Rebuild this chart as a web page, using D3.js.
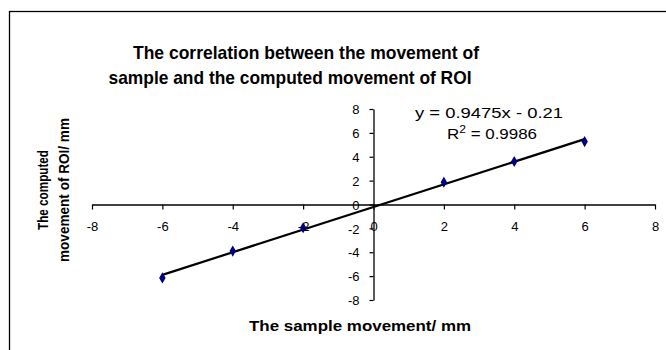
<!DOCTYPE html>
<html>
<head>
<meta charset="utf-8">
<script src="https://cdn.jsdelivr.net/npm/d3@7"></script>
<style>
  html, body { margin: 0; padding: 0; background: #fff; }
  svg { display: block; }
  text { font-family: "Liberation Sans", Arial, sans-serif; fill: #000; }
</style>
</head>
<body>
<svg id="chart" width="666" height="350"></svg>
<script>
// Sample displacement (mm) and the ROI displacement computed from images (mm)
const sampleMovement = [-6, -4, -2, 2, 4, 6];
const computedMovement = [-6.15, -3.9, -1.95, 1.87, 3.6, 5.27];

// Linear trendline as reported on the chart
const trendSlope = 0.9475;
const trendIntercept = -0.21;
const trendR2 = 0.9986;

const xTicks = [-8, -6, -4, -2, 0, 2, 4, 6, 8];
const yTicks = [-8, -6, -4, -2, 0, 2, 4, 6, 8];

const titleLines = [
  "The correlation between the movement of",
  "sample and the computed movement of ROI"
];
const xTitle = "The sample movement/ mm";
const yTitleLines = ["The computed", "movement of ROI/ mm"];

const svg = d3.select("#chart");
const FONT = "Liberation Sans, Arial, sans-serif";

// chart frame
svg.append("rect")
  .attr("x", 9.5).attr("y", 11.5)
  .attr("width", 700).attr("height", 400)
  .attr("fill", "none").attr("stroke", "#000").attr("stroke-width", 1.3);

const x = d3.scaleLinear().domain([-8, 8]).range([92, 655]);
const y = d3.scaleLinear().domain([-8, 8]).range([300, 109]);

const fmt = d => d < 0 ? "-" + Math.abs(d) : String(d);

// x axis crosses at y = 0
const xAxis = svg.append("g")
  .attr("transform", `translate(0,${y(0)})`)
  .call(d3.axisBottom(x).tickValues(xTicks).tickSize(5).tickSizeOuter(0).tickFormat(fmt));
xAxis.attr("font-size", 13).attr("font-family", FONT);
xAxis.select(".domain").attr("stroke", "#000").attr("stroke-width", 1.3);
xAxis.selectAll(".tick line").attr("stroke", "#000").attr("stroke-width", 1.2);
xAxis.selectAll(".tick text").attr("y", 26).attr("dy", 0);

// y axis crosses at x = 0
const yAxis = svg.append("g")
  .attr("transform", `translate(${x(0)},0)`)
  .call(d3.axisLeft(y).tickValues(yTicks).tickSize(4).tickSizeOuter(0).tickFormat(fmt));
yAxis.attr("font-size", 13).attr("font-family", FONT);
yAxis.select(".domain").attr("stroke", "#000").attr("stroke-width", 1.3);
yAxis.selectAll(".tick line").attr("stroke", "#000").attr("stroke-width", 1.2);
yAxis.selectAll(".tick text").attr("x", -14).attr("dy", "0.36em");

// trendline over the sampled range
const xMin = d3.min(sampleMovement), xMax = d3.max(sampleMovement);
svg.append("line")
  .attr("x1", x(xMin)).attr("y1", y(trendSlope * xMin + trendIntercept))
  .attr("x2", x(xMax)).attr("y2", y(trendSlope * xMax + trendIntercept))
  .attr("stroke", "#000").attr("stroke-width", 2.2);

// data markers (diamonds)
const diamond = d3.symbol().type(d3.symbolDiamond).size(36);
svg.append("g").selectAll("path")
  .data(sampleMovement.map((d, i) => [d, computedMovement[i]]))
  .join("path")
  .attr("d", diamond)
  .attr("transform", d => `translate(${x(d[0])},${y(d[1])})`)
  .attr("fill", "#000080");

// chart title
const title = svg.append("g").style("font-weight", "bold").style("font-size", "19px");
title.append("text").attr("x", 306).attr("y", 59).attr("text-anchor", "middle")
  .attr("textLength", 346).attr("lengthAdjust", "spacingAndGlyphs").text(titleLines[0]);
title.append("text").attr("x", 290).attr("y", 84).attr("text-anchor", "middle")
  .attr("textLength", 363).attr("lengthAdjust", "spacingAndGlyphs").text(titleLines[1]);

// trendline equation
const eq = svg.append("g").style("font-size", "14px");
eq.append("text").attr("x", 489).attr("y", 118).attr("text-anchor", "middle")
  .attr("textLength", 148).attr("lengthAdjust", "spacingAndGlyphs")
  .text(`y = ${trendSlope}x - ${Math.abs(trendIntercept).toFixed(2)}`);
const r2 = eq.append("text").attr("x", 492).attr("y", 139).attr("text-anchor", "middle")
  .attr("textLength", 90).attr("lengthAdjust", "spacingAndGlyphs");
r2.append("tspan").text("R");
r2.append("tspan").attr("dy", -6).style("font-size", "10px").text("2");
r2.append("tspan").attr("dy", 6).text(` = ${trendR2}`);

// axis titles
svg.append("text")
  .attr("x", 360).attr("y", 331).attr("text-anchor", "middle")
  .style("font-weight", "bold").style("font-size", "15px")
  .attr("textLength", 222).attr("lengthAdjust", "spacingAndGlyphs")
  .text(xTitle);

const yt = svg.append("g")
  .attr("transform", "translate(0,190) rotate(-90)")
  .style("font-weight", "bold").style("font-size", "14px");
yt.append("text").attr("x", 0).attr("y", 48).attr("text-anchor", "middle")
  .attr("textLength", 80).attr("lengthAdjust", "spacingAndGlyphs").text(yTitleLines[0]);
yt.append("text").attr("x", 0).attr("y", 69).attr("text-anchor", "middle")
  .attr("textLength", 144).attr("lengthAdjust", "spacingAndGlyphs").text(yTitleLines[1]);
</script>
</body>
</html>
